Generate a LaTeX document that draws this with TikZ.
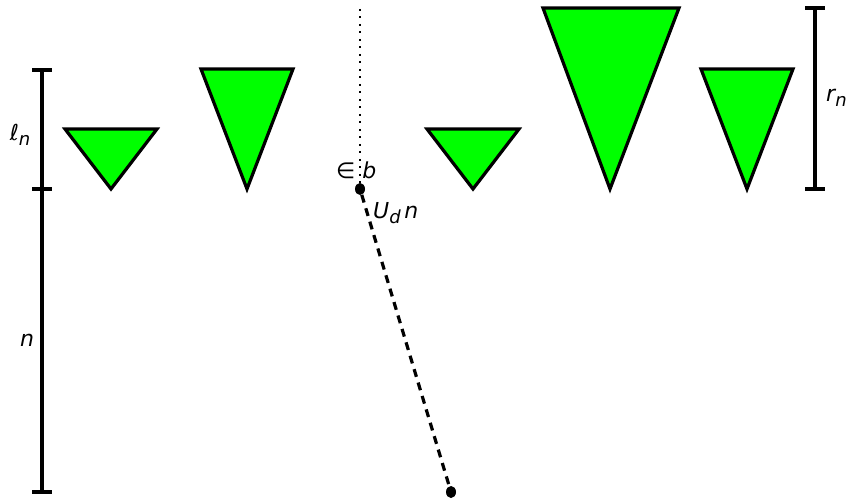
\documentclass[tikz,border=0pt]{standalone}
\usepackage{fontspec}
\setmainfont{DejaVu Sans}
\usetikzlibrary{shapes.geometric}
\begin{document}
\begin{tikzpicture}[x=1pt,y=-1pt,
  tri/.style={fill={rgb,255:red,0;green,255;blue,0},draw=black,line width=3.2pt},
  bar/.style={draw=black,line width=3.2pt},
  lab/.style={font=\fontsize{22}{26}\selectfont\itshape,inner sep=0pt},
  dot/.style={ellipse,fill=black,inner sep=0pt,minimum width=10pt,minimum height=12pt}]
\useasboundingbox (0,0) rectangle (847,500);
% left bracket
\coordinate (L1) at (42,70); \coordinate (L2) at (42,189); \coordinate (L3) at (42,492);
\draw[bar] (L1) -- (L3);
\foreach \c in {L1,L2,L3} \draw[bar] ([xshift=-10pt]\c) -- ([xshift=10pt]\c);
\node[lab] (ln) at (20,135) {ℓ\raisebox{-0.25em}{\fontsize{18}{20}\selectfont n}};
\node[lab] (nn) at (27,340) {n};
% right bracket
\coordinate (R1) at (815,8); \coordinate (R2) at (815,189);
\draw[bar] (R1) -- (R2);
\foreach \c in {R1,R2} \draw[bar] ([xshift=-10pt]\c) -- ([xshift=10pt]\c);
\node[lab,anchor=west] (rn) at (826,98) {r\raisebox{-0.25em}{\fontsize{18}{20}\selectfont n}};
% triangles
\draw[tri] (65,129) -- (157,129) -- (111,189) -- cycle;
\draw[tri] (201,69) -- (293,69) -- (247,189) -- cycle;
\draw[tri] (427,129) -- (519,129) -- (473,189) -- cycle;
\draw[tri] (543,8) -- (679,8) -- (610,189) -- cycle;
\draw[tri] (701,69) -- (793,69) -- (747,189) -- cycle;
% dotted and dashed
\coordinate (top) at (360,9);
\node[dot] (p) at (360,189) {};
\node[dot] (q) at (451,492) {};
\draw[line width=2pt,dash pattern=on 2pt off 5.5pt] (top) -- (p);
\draw[line width=3.2pt,dash pattern=on 8pt off 6pt] (p) -- (q);
\node[lab,anchor=west] (eb) at (336,170) {∈ b};
\node[lab,anchor=west] (ud) at (373,213) {U\raisebox{-0.25em}{\fontsize{18}{20}\selectfont d}\,n};
\end{tikzpicture}
\end{document}
